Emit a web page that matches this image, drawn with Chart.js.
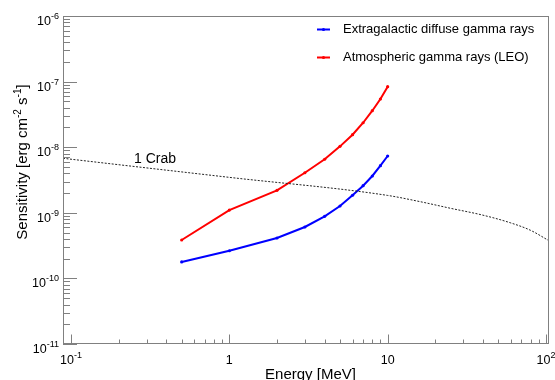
<!DOCTYPE html>
<html>
<head>
<meta charset="utf-8">
<script src="https://cdn.jsdelivr.net/npm/chart.js@4.4.0/dist/chart.umd.min.js"></script>
<style>
html, body { margin: 0; padding: 0; background: #fff; }
</style>
</head>
<body>
<canvas id="sensChart" width="555" height="380"></canvas>
<script>
// energies in MeV, sensitivities in erg cm^-2 s^-1
const energies = [0.5, 1, 2, 3, 4, 5, 6, 7, 8, 9, 10];
const extragalactic = [1.78e-10, 2.64e-10, 4.13e-10, 6.08e-10, 8.85e-10, 1.27e-9, 1.85e-9, 2.59e-9, 3.64e-9, 5.23e-9, 7.34e-9];
const atmospheric = [3.85e-10, 1.10e-9, 2.20e-9, 4.08e-9, 6.55e-9, 1.03e-8, 1.55e-8, 2.36e-8, 3.60e-8, 5.43e-8, 8.36e-8];

const crabEnergies = [0.089, 0.1, 1, 10, 16, 25, 40, 60, 80, 104.5];
const crabFlux = [6.78e-9, 6.56e-9, 3.47e-9, 1.84e-9, 1.48e-9, 1.17e-9, 9.2e-10, 7.0e-10, 5.4e-10, 3.75e-10];

const xTickExps = [-1, 0, 1, 2];
const yTickExps = [-11, -10, -9, -8, -7, -6];
const seriesLabels = ['Extragalactic diffuse gamma rays', 'Atmospheric gamma rays (LEO)'];
const seriesColors = ['#0000ff', '#ff0000'];

const FONT = '"Liberation Sans", Arial, Helvetica, sans-serif';

const toPoints = (xs, ys) => xs.map((x, i) => ({ x: x, y: ys[i] }));

// draws "10^n" with a raised exponent; align is 'right' or 'center'
function drawPow(ctx, exp, px, py, align) {
    let base = '10', sup = String(exp);
    if (exp === 0) { base = '1'; sup = ''; }
    if (exp === 1) { sup = ''; }
    ctx.font = '12.5px ' + FONT;
    const wb = ctx.measureText(base).width;
    ctx.font = '9px ' + FONT;
    const ws = sup ? ctx.measureText(sup).width : 0;
    const total = wb + ws;
    let start = align === 'right' ? px - total : px - total / 2;
    ctx.textAlign = 'left';
    ctx.textBaseline = 'alphabetic';
    ctx.font = '12.5px ' + FONT;
    ctx.fillText(base, start, py);
    if (sup) {
        ctx.font = '9px ' + FONT;
        ctx.fillText(sup, start + wb, py - 6);
    }
}

// pieces of rotated text, some of them superscripts
function drawRich(ctx, parts, cx, cy, size) {
    const small = Math.round(size * 0.65);
    let total = 0;
    parts.forEach(p => {
        ctx.font = (p.sup ? small : size) + 'px ' + FONT;
        p.w = ctx.measureText(p.t).width;
        total += p.w;
    });
    let x = cx - total / 2;
    ctx.textAlign = 'left';
    parts.forEach(p => {
        ctx.font = (p.sup ? small : size) + 'px ' + FONT;
        ctx.fillText(p.t, x, p.sup ? cy - 6 : cy);
        x += p.w;
    });
}

const frameAxes = {
    id: 'frameAxes',
    afterDatasetsDraw(chart) {
        const { ctx, chartArea: a, scales } = chart;
        const xs = scales.x, ys = scales.y;
        ctx.save();

        // frame
        ctx.strokeStyle = '#808080';
        ctx.lineWidth = 1;
        ctx.strokeRect(a.left + 0.5, a.top + 0.5, a.right - a.left - 1, a.bottom - a.top - 1);

        // ticks point inward from left and bottom edges
        ctx.beginPath();
        for (let e = -11; e <= -6; e++) {
            for (let m = 1; m <= 9; m++) {
                const v = m * Math.pow(10, e);
                if (v > ys.max * 1.0001) break;
                const py = Math.round(ys.getPixelForValue(v)) + 0.5;
                const len = m === 1 ? 14 : 7;
                ctx.moveTo(a.left, py);
                ctx.lineTo(a.left + len, py);
            }
        }
        for (let e = -1; e <= 2; e++) {
            for (let m = 1; m <= 9; m++) {
                const v = m * Math.pow(10, e);
                if (v > xs.max) break;
                const px = Math.round(xs.getPixelForValue(v)) + 0.5;
                const len = m === 1 ? 9.5 : 4.5;
                ctx.moveTo(px, a.bottom);
                ctx.lineTo(px, a.bottom - len);
            }
        }
        ctx.stroke();

        // tick labels
        ctx.fillStyle = '#000';
        yTickExps.forEach(e => {
            const py = ys.getPixelForValue(Math.pow(10, e));
            drawPow(ctx, e, 59, py + 9, 'right');
        });
        xTickExps.forEach(e => {
            const px = xs.getPixelForValue(Math.pow(10, e));
            drawPow(ctx, e, px, a.bottom + 20, 'center');
        });

        // axis titles
        ctx.font = '15px ' + FONT;
        ctx.textAlign = 'center';
        ctx.fillText('Energy [MeV]', 310.5, 379);

        ctx.save();
        ctx.translate(27, 162);
        ctx.rotate(-Math.PI / 2);
        drawRich(ctx, [
            { t: 'Sensitivity [erg cm' },
            { t: '-2', sup: true },
            { t: ' s' },
            { t: '-1', sup: true },
            { t: ']' }
        ], 0, 0, 15);
        ctx.restore();

        // crab reference label
        ctx.font = '14px ' + FONT;
        ctx.textAlign = 'left';
        ctx.fillText('1 Crab', 134, 163);

        // legend
        seriesLabels.forEach((label, i) => {
            const ly = 29.5 + i * 28;
            ctx.strokeStyle = seriesColors[i];
            ctx.lineWidth = 2;
            ctx.beginPath();
            ctx.moveTo(317, ly);
            ctx.lineTo(330, ly);
            ctx.stroke();
            ctx.fillStyle = seriesColors[i];
            ctx.beginPath();
            ctx.arc(323.5, ly, 1.6, 0, Math.PI * 2);
            ctx.fill();
            ctx.fillStyle = '#000';
            ctx.font = '13px ' + FONT;
            ctx.textBaseline = 'middle';
            ctx.fillText(label, 343, ly);
            ctx.textBaseline = 'alphabetic';
        });

        ctx.restore();
    }
};

const lineSet = (label, data, color) => ({
    label: label,
    data: data,
    borderColor: color,
    backgroundColor: color,
    borderWidth: 2,
    pointRadius: 1.6,
    pointBorderWidth: 0,
    tension: 0,
    fill: false
});

const ctx = document.getElementById('sensChart').getContext('2d');
new Chart(ctx, {
    type: 'line',
    data: {
        datasets: [
            {
                label: '1 Crab',
                data: toPoints(crabEnergies, crabFlux),
                borderColor: '#222',
                borderWidth: 1,
                borderDash: [2, 1.5],
                pointRadius: 0,
                cubicInterpolationMode: 'monotone',
                fill: false
            },
            lineSet(seriesLabels[0], toPoints(energies, extragalactic), seriesColors[0]),
            lineSet(seriesLabels[1], toPoints(energies, atmospheric), seriesColors[1])
        ]
    },
    options: {
        responsive: false,
        animation: false,
        devicePixelRatio: 1,
        layout: { padding: { left: 63, right: 6, top: 16, bottom: 36 } },
        plugins: { legend: { display: false }, tooltip: { enabled: false } },
        scales: {
            x: { type: 'logarithmic', min: 0.089, max: 104.5, display: false },
            y: { type: 'logarithmic', min: 1e-11, max: 1e-6, display: false }
        }
    },
    plugins: [frameAxes]
});
</script>
</body>
</html>
